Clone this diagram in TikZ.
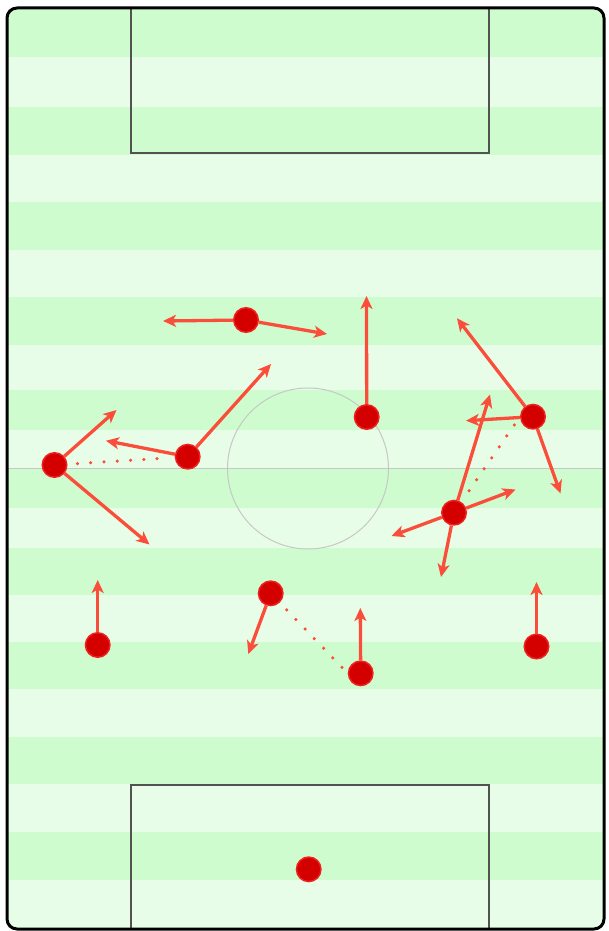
\documentclass[tikz,border=0pt]{standalone}
\usepackage{xcolor}
\usepackage{tikz}
\usetikzlibrary{arrows.meta}

\definecolor{grassdark}{RGB}{207,252,207}
\definecolor{grasslight}{RGB}{231,253,231}
\definecolor{runred}{RGB}{250,78,58}
\definecolor{playerred}{RGB}{212,0,0}
\definecolor{playeredge}{RGB}{238,32,32}

\begin{document}
\begin{tikzpicture}[x=1pt, y=-1pt,
  player/.style={circle, fill=playerred, draw=playeredge, line width=1.5pt,
    minimum size=24.5pt, inner sep=0pt},
  run/.style={-{Stealth[length=13pt, width=12pt, inset=3.5pt]}, draw=runred,
    line width=3.3pt},
  link/.style={draw=runred, line width=3.5pt, line cap=round,
    dash pattern=on 0pt off 13.3pt, shorten <=10pt, shorten >=5pt},
  boxline/.style={draw=black!68, line width=1.3pt},
  pitchline/.style={draw=black!22, line width=1pt},
]
  \useasboundingbox (0,0) rectangle (608,931);

  % pitch and stripes
  \fill[grasslight, rounded corners=10pt] (7,8) rectangle (604,929);
  \begin{scope}
    \clip[rounded corners=10pt] (7,8) rectangle (604,929);
    \foreach \a/\b in {8/57,107/155,202/250,297/345,390/430,
                       468/508,548/595,642/689,737/784,832/880}
      \fill[grassdark] (7,\a) rectangle (604,\b);
  \end{scope}
  \draw[pitchline] (7,468) -- (604,468);
  \draw[pitchline] (308,468.5) circle[radius=80.5pt];
  \draw[boxline] (131,8) -- (131,153) -- (489,153) -- (489,8);
  \draw[boxline] (131,929) -- (131,785) -- (489,785) -- (489,929);
  \draw[line width=3pt, rounded corners=10pt] (7,8) rectangle (604,929);

  % players
  \node[player] (p1)  at (246,320)     {};
  \node[player] (p2)  at (366.7,417)   {};
  \node[player] (p3)  at (187.7,456.7) {};
  \node[player] (p4)  at (54.5,465)    {};
  \node[player] (p5)  at (533,416.7)   {};
  \node[player] (p6)  at (454,512.7)   {};
  \node[player] (p7)  at (97.7,645)    {};
  \node[player] (p8)  at (270.7,593.3) {};
  \node[player] (p9)  at (360.7,673.3) {};
  \node[player] (p10) at (536.5,646.5) {};
  \node[player] (gk)  at (308.7,869.3) {};

  % run targets
  \coordinate (t1a) at (163,321);
  \coordinate (t1b) at (327,334);
  \coordinate (t2)  at (366.5,296);
  \coordinate (t3a) at (106,440.7);
  \coordinate (t3b) at (271,364);
  \coordinate (t4a) at (116.5,410);
  \coordinate (t4b) at (149.5,544.5);
  \coordinate (t5a) at (457,318.3);
  \coordinate (t5b) at (466,420.7);
  \coordinate (t5c) at (560.5,493.5);
  \coordinate (t6a) at (490,394.5);
  \coordinate (t6b) at (515.5,489.5);
  \coordinate (t6c) at (391.5,536);
  \coordinate (t6d) at (441,577);
  \coordinate (t7)  at (97.7,580);
  \coordinate (t8)  at (248.3,654);
  \coordinate (t9)  at (360.3,608);
  \coordinate (t10) at (536.5,582);

  \draw[run] (p1) -- (t1a);
  \draw[run] (p1) -- (t1b);
  \draw[run] (p2) -- (t2);
  \draw[run] (p3) -- (t3a);
  \draw[run] (p3) -- (t3b);
  \draw[run] (p4) -- (t4a);
  \draw[run] (p4) -- (t4b);
  \draw[run] (p5) -- (t5a);
  \draw[run] (p5) -- (t5b);
  \draw[run] (p5) -- (t5c);
  \draw[run] (p6) -- (t6a);
  \draw[run] (p6) -- (t6b);
  \draw[run] (p6) -- (t6c);
  \draw[run] (p6) -- (t6d);
  \draw[run] (p7) -- (t7);
  \draw[run] (p8) -- (t8);
  \draw[run] (p9) -- (t9);
  \draw[run] (p10) -- (t10);

  \draw[link] (p4) -- (p3);
  \draw[link] (p5.west) -- (p6);
  \draw[link] (p8) -- (p9.west);
\end{tikzpicture}
\end{document}
